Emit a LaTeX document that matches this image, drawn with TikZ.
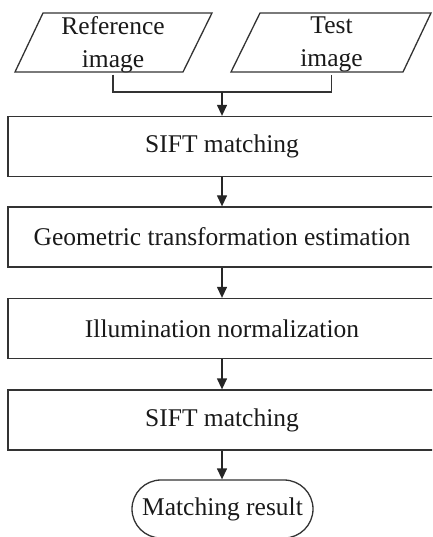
\documentclass[tikz,border=0pt]{standalone}
\usepackage{fontspec}
\setmainfont{Liberation Serif}
\usetikzlibrary{arrows.meta}
\begin{document}
\begin{tikzpicture}[x=1pt,y=-1pt,
  line width=1.3pt, draw=black!80,
  txt/.style={font=\fontsize{25.5}{33}\selectfont, align=center, inner sep=0pt, text=black!90},
  procbox/.style={draw=black!80, line width=1.3pt, minimum width=428pt, minimum height=60pt, txt},
  arr/.style={-{Triangle[length=11pt,width=10pt]}, draw=black!85}]
\useasboundingbox (0,0) rectangle (432,537);
\clip (0,0) rectangle (432,537);
% input parallelograms
\node[txt, minimum height=59pt, minimum width=168pt] (ref) at (113,44.5) {Reference\\image};
\node[txt, minimum height=59pt, minimum width=168pt] (test) at (331.5,44.5) {Test\\image};
\draw[black!80] (15,72) -- (43,13) -- (212,13) -- (183,72) -- cycle;
\draw[black!80] (231,72) -- (260,13) -- (431,13) -- (403,72) -- cycle;
% process boxes
\node[procbox] (b1) at (222,146.5) {SIFT matching};
\node[procbox] (b2) at (222,237) {Geometric transformation estimation};
\node[procbox] (b3) at (222,328.5) {Illumination normalization};
\node[procbox] (b4) at (222,420) {SIFT matching};
\node[draw=black!80, line width=1.3pt, rounded corners=29pt, minimum width=181pt, minimum height=58pt, txt] (res) at (222.5,509) {Matching result};
% connectors
\coordinate (j) at (222,92);
\draw[black!80] (ref.south) |- (j) -| (test.south);
\draw[arr] (j) -- (b1.north);
\draw[arr] (b1.south) -- (b2.north);
\draw[arr] (b2.south) -- (b3.north);
\draw[arr] (b3.south) -- (b4.north);
\draw[arr] (b4.south) -- (b4.south |- res.north);
\end{tikzpicture}
\end{document}
